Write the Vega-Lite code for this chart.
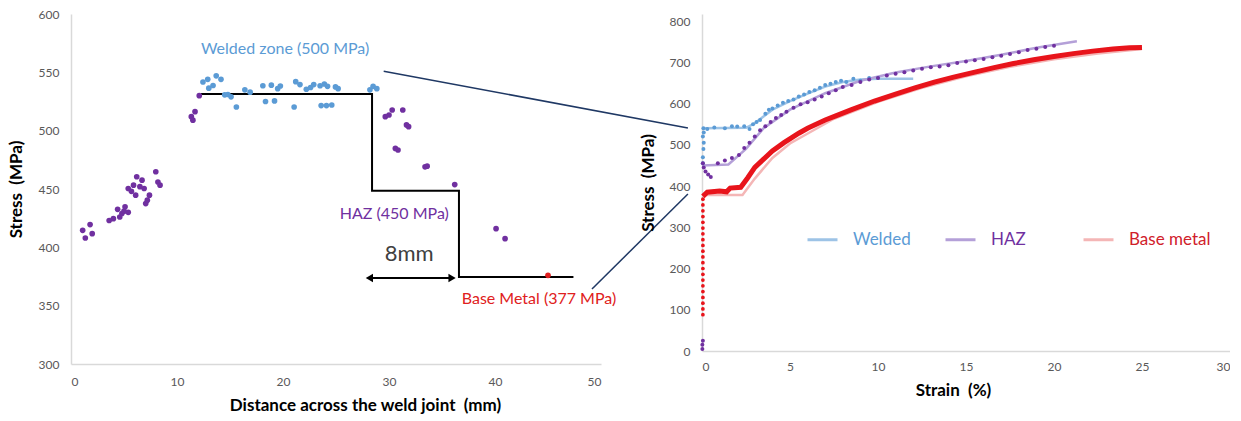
{
  "$schema": "https://vega.github.io/schema/vega-lite/v6.json",
  "background": "white",
  "padding": {"left": 7, "top": 8, "right": 0, "bottom": 5},
  "spacing": 101,
  "bounds": "flush",
  "config": {
    "view": {"stroke": null},
    "font": "Lato",
    "axis": {
      "grid": false, "ticks": false, "domainColor": "#d9d9d9", "domainWidth": 1.5,
      "labelColor": "#595959", "labelFont": "Lato", "labelFontSize": 12,
      "titleFont": "Lato", "titleFontSize": 17, "titleFontWeight": "bold", "titleColor": "#000000"
    }
  },
  "datasets": {
    "distance": [
      {"d": 1.1, "s": 414.6, "zone": "HAZ"}, {"d": 1.35, "s": 408, "zone": "HAZ"}, {"d": 1.8, "s": 419.5, "zone": "HAZ"}, {"d": 2.0, "s": 411.7, "zone": "HAZ"},
      {"d": 3.6, "s": 423, "zone": "HAZ"}, {"d": 4.0, "s": 424.6, "zone": "HAZ"}, {"d": 4.4, "s": 432.6, "zone": "HAZ"}, {"d": 4.6, "s": 426, "zone": "HAZ"},
      {"d": 4.8, "s": 429, "zone": "HAZ"}, {"d": 5.0, "s": 431, "zone": "HAZ"}, {"d": 5.1, "s": 434.7, "zone": "HAZ"}, {"d": 5.4, "s": 430, "zone": "HAZ"},
      {"d": 5.4, "s": 450.4, "zone": "HAZ"}, {"d": 5.7, "s": 448, "zone": "HAZ"}, {"d": 5.9, "s": 453.3, "zone": "HAZ"}, {"d": 6.1, "s": 444.7, "zone": "HAZ"},
      {"d": 6.2, "s": 460.5, "zone": "HAZ"}, {"d": 6.5, "s": 452, "zone": "HAZ"}, {"d": 6.7, "s": 457.6, "zone": "HAZ"}, {"d": 6.9, "s": 450.4, "zone": "HAZ"},
      {"d": 7.05, "s": 437.5, "zone": "HAZ"}, {"d": 7.2, "s": 440.4, "zone": "HAZ"}, {"d": 7.4, "s": 444.7, "zone": "HAZ"}, {"d": 8.0, "s": 464.8, "zone": "HAZ"},
      {"d": 8.2, "s": 456, "zone": "HAZ"}, {"d": 8.4, "s": 453.3, "zone": "HAZ"},
      {"d": 11.35, "s": 512, "zone": "HAZ"}, {"d": 11.5, "s": 509, "zone": "HAZ"}, {"d": 11.7, "s": 516.3, "zone": "HAZ"}, {"d": 12.1, "s": 530, "zone": "HAZ"},
      {"d": 12.45, "s": 541.7, "zone": "Welded"}, {"d": 12.9, "s": 544, "zone": "Welded"}, {"d": 13.0, "s": 536.4, "zone": "Welded"}, {"d": 13.4, "s": 538.7, "zone": "Welded"},
      {"d": 13.7, "s": 547, "zone": "Welded"}, {"d": 14.15, "s": 544, "zone": "Welded"}, {"d": 14.5, "s": 530.7, "zone": "Welded"}, {"d": 14.8, "s": 531, "zone": "Welded"},
      {"d": 15.1, "s": 529, "zone": "Welded"}, {"d": 15.6, "s": 520.3, "zone": "Welded"}, {"d": 16.4, "s": 535, "zone": "Welded"}, {"d": 16.9, "s": 533, "zone": "Welded"},
      {"d": 18.1, "s": 538.5, "zone": "Welded"}, {"d": 18.35, "s": 525, "zone": "Welded"}, {"d": 18.9, "s": 539, "zone": "Welded"}, {"d": 19.2, "s": 525.5, "zone": "Welded"},
      {"d": 19.5, "s": 536, "zone": "Welded"}, {"d": 19.75, "s": 538.3, "zone": "Welded"}, {"d": 21.05, "s": 520.3, "zone": "Welded"}, {"d": 21.2, "s": 542, "zone": "Welded"},
      {"d": 21.6, "s": 539.5, "zone": "Welded"}, {"d": 22.2, "s": 535.5, "zone": "Welded"}, {"d": 22.6, "s": 537, "zone": "Welded"}, {"d": 22.9, "s": 539.5, "zone": "Welded"},
      {"d": 23.5, "s": 538.5, "zone": "Welded"}, {"d": 23.9, "s": 540, "zone": "Welded"}, {"d": 24.2, "s": 538, "zone": "Welded"}, {"d": 23.6, "s": 521.5, "zone": "Welded"},
      {"d": 24.1, "s": 521.5, "zone": "Welded"}, {"d": 24.6, "s": 522, "zone": "Welded"}, {"d": 24.95, "s": 537.5, "zone": "Welded"}, {"d": 25.2, "s": 536, "zone": "Welded"},
      {"d": 28.2, "s": 535, "zone": "Welded"}, {"d": 28.5, "s": 538, "zone": "Welded"}, {"d": 28.85, "s": 536, "zone": "Welded"},
      {"d": 29.65, "s": 512, "zone": "HAZ"}, {"d": 30.0, "s": 513.4, "zone": "HAZ"}, {"d": 30.3, "s": 517.7, "zone": "HAZ"}, {"d": 31.3, "s": 517.7, "zone": "HAZ"},
      {"d": 31.65, "s": 504.9, "zone": "HAZ"}, {"d": 31.85, "s": 503.4, "zone": "HAZ"}, {"d": 30.6, "s": 484.8, "zone": "HAZ"}, {"d": 30.85, "s": 483.4, "zone": "HAZ"},
      {"d": 33.4, "s": 469, "zone": "HAZ"}, {"d": 33.6, "s": 469.6, "zone": "HAZ"}, {"d": 36.2, "s": 453.8, "zone": "HAZ"}, {"d": 40.1, "s": 416, "zone": "HAZ"},
      {"d": 40.95, "s": 407.4, "zone": "HAZ"},
      {"d": 45.0, "s": 376, "zone": "Base"}
    ],
    "steps": [
      {"d": 12.26, "s": 531.4, "o": 1}, {"d": 28.4, "s": 531.4, "o": 2}, {"d": 28.4, "s": 448.6, "o": 3},
      {"d": 36.6, "s": 448.6, "o": 4}, {"d": 36.6, "s": 374.6, "o": 5}, {"d": 47.4, "s": 374.6, "o": 6}
    ],
    "arrow": [
      {"d": 28.15, "s": 373.7, "head": "triangle-left"}, {"d": 35.95, "s": 373.7, "head": "triangle-right"}
    ],
    "zoneLabels": [
      {"d": 20.2, "s": 570, "label": "Welded zone (500 MPa)", "zone": "Welded"},
      {"d": 30.5, "s": 428.6, "label": "HAZ (450 MPa)", "zone": "HAZ"},
      {"d": 44.15, "s": 355.7, "label": "Base Metal (377 MPa)", "zone": "Base"}
    ],
    "connectors": [
      {"d": 29.5, "s": 551, "d2": 58.2, "s2": 502.3},
      {"d": 49.15, "s": 364.3, "d2": 58.2, "s2": 445.7}
    ],
    "fits": [
      {"e": 0, "st": 540, "series": "Welded"}, {"e": 2.5, "st": 541, "series": "Welded"}, {"e": 3, "st": 552, "series": "Welded"}, {"e": 4, "st": 585, "series": "Welded"},
      {"e": 5, "st": 606, "series": "Welded"}, {"e": 6, "st": 624, "series": "Welded"}, {"e": 7, "st": 641, "series": "Welded"}, {"e": 8, "st": 652, "series": "Welded"},
      {"e": 9, "st": 658, "series": "Welded"}, {"e": 10, "st": 660, "series": "Welded"}, {"e": 12, "st": 660, "series": "Welded"},
      {"e": 0, "st": 450, "series": "HAZ"}, {"e": 1.5, "st": 452, "series": "HAZ"}, {"e": 2.5, "st": 490, "series": "HAZ"}, {"e": 3.5, "st": 540, "series": "HAZ"},
      {"e": 5, "st": 585, "series": "HAZ"}, {"e": 7, "st": 625, "series": "HAZ"}, {"e": 9, "st": 655, "series": "HAZ"}, {"e": 11, "st": 675, "series": "HAZ"},
      {"e": 13, "st": 690, "series": "HAZ"}, {"e": 15, "st": 703, "series": "HAZ"}, {"e": 17, "st": 718, "series": "HAZ"}, {"e": 19, "st": 735, "series": "HAZ"},
      {"e": 21.3, "st": 751, "series": "HAZ"},
      {"e": 0, "st": 378, "series": "Base metal"}, {"e": 2.3, "st": 378, "series": "Base metal"}, {"e": 3, "st": 418, "series": "Base metal"}, {"e": 4, "st": 468, "series": "Base metal"},
      {"e": 5, "st": 503, "series": "Base metal"}, {"e": 7.5, "st": 563, "series": "Base metal"}, {"e": 10, "st": 604, "series": "Base metal"}, {"e": 12.5, "st": 638, "series": "Base metal"},
      {"e": 15, "st": 666, "series": "Base metal"}, {"e": 17.5, "st": 689, "series": "Base metal"}, {"e": 20, "st": 707, "series": "Base metal"}, {"e": 22.5, "st": 721, "series": "Base metal"},
      {"e": 25, "st": 732, "series": "Base metal"}
    ],
    "baseCurve": [
      {"e": 0.05, "st": 375}, {"e": 0.3, "st": 385}, {"e": 1.0, "st": 388}, {"e": 1.4, "st": 386}, {"e": 1.6, "st": 395}, {"e": 2.2, "st": 397},
      {"e": 2.6, "st": 420}, {"e": 3.0, "st": 445}, {"e": 3.5, "st": 465}, {"e": 4.0, "st": 485}, {"e": 4.66, "st": 505}, {"e": 5.5, "st": 528},
      {"e": 6.0, "st": 540}, {"e": 7.0, "st": 560}, {"e": 7.6, "st": 570}, {"e": 8.5, "st": 585}, {"e": 9.8, "st": 606}, {"e": 11.0, "st": 623},
      {"e": 12.1, "st": 638}, {"e": 13.2, "st": 652}, {"e": 14.3, "st": 664}, {"e": 15.5, "st": 676}, {"e": 16.6, "st": 687}, {"e": 17.7, "st": 697},
      {"e": 18.85, "st": 706}, {"e": 20.0, "st": 714}, {"e": 21.1, "st": 721}, {"e": 22.2, "st": 727}, {"e": 23.35, "st": 732}, {"e": 24.3, "st": 735},
      {"e": 25.0, "st": 736}
    ],
    "baseDots": [
      {"e": 0.05, "st": 88}, {"e": 0.05, "st": 102}, {"e": 0.05, "st": 116}, {"e": 0.05, "st": 130}, {"e": 0.05, "st": 144}, {"e": 0.05, "st": 158},
      {"e": 0.05, "st": 172}, {"e": 0.05, "st": 186}, {"e": 0.05, "st": 200}, {"e": 0.05, "st": 214}, {"e": 0.05, "st": 228}, {"e": 0.05, "st": 242},
      {"e": 0.05, "st": 256}, {"e": 0.05, "st": 270}, {"e": 0.05, "st": 284}, {"e": 0.05, "st": 298}, {"e": 0.05, "st": 312}, {"e": 0.05, "st": 326},
      {"e": 0.05, "st": 340}, {"e": 0.05, "st": 354}, {"e": 0.05, "st": 368}
    ],
    "curvePoints": [
      {"e": 0.05, "st": 455, "series": "Welded"}, {"e": 0.05, "st": 470, "series": "Welded"}, {"e": 0.08, "st": 490, "series": "Welded"}, {"e": 0.1, "st": 505, "series": "Welded"},
      {"e": 0.05, "st": 520, "series": "Welded"}, {"e": 0.1, "st": 530, "series": "Welded"}, {"e": 0.08, "st": 540, "series": "Welded"}, {"e": 0.3, "st": 538, "series": "Welded"},
      {"e": 0.7, "st": 542, "series": "Welded"}, {"e": 1.3, "st": 540, "series": "Welded"}, {"e": 1.7, "st": 545, "series": "Welded"}, {"e": 2.0, "st": 544, "series": "Welded"},
      {"e": 2.4, "st": 545, "series": "Welded"}, {"e": 2.7, "st": 538, "series": "Welded"}, {"e": 2.9, "st": 550, "series": "Welded"}, {"e": 3.1, "st": 555, "series": "Welded"},
      {"e": 3.3, "st": 560, "series": "Welded"}, {"e": 3.6, "st": 575, "series": "Welded"}, {"e": 3.8, "st": 585, "series": "Welded"}, {"e": 4.0, "st": 588, "series": "Welded"},
      {"e": 4.3, "st": 595, "series": "Welded"}, {"e": 4.6, "st": 602, "series": "Welded"}, {"e": 4.9, "st": 606, "series": "Welded"}, {"e": 5.2, "st": 610, "series": "Welded"},
      {"e": 5.5, "st": 617, "series": "Welded"}, {"e": 5.8, "st": 622, "series": "Welded"}, {"e": 6.1, "st": 628, "series": "Welded"}, {"e": 6.4, "st": 632, "series": "Welded"},
      {"e": 6.7, "st": 638, "series": "Welded"}, {"e": 7.0, "st": 645, "series": "Welded"}, {"e": 7.3, "st": 648, "series": "Welded"}, {"e": 7.6, "st": 652, "series": "Welded"},
      {"e": 7.9, "st": 655, "series": "Welded"}, {"e": 8.2, "st": 652, "series": "Welded"}, {"e": 8.6, "st": 660, "series": "Welded"}, {"e": 9.0, "st": 655, "series": "Welded"},
      {"e": 9.5, "st": 662, "series": "Welded"}, {"e": 10.0, "st": 662, "series": "Welded"},
      {"e": 0.02, "st": 5, "series": "HAZ"}, {"e": 0.02, "st": 15, "series": "HAZ"}, {"e": 0.05, "st": 25, "series": "HAZ"}, {"e": 0.05, "st": 455, "series": "HAZ"},
      {"e": 0.1, "st": 445, "series": "HAZ"}, {"e": 0.2, "st": 435, "series": "HAZ"}, {"e": 0.35, "st": 428, "series": "HAZ"}, {"e": 0.5, "st": 422, "series": "HAZ"},
      {"e": 0.9, "st": 455, "series": "HAZ"}, {"e": 1.3, "st": 462, "series": "HAZ"}, {"e": 1.7, "st": 468, "series": "HAZ"}, {"e": 2.1, "st": 475, "series": "HAZ"},
      {"e": 2.4, "st": 492, "series": "HAZ"}, {"e": 2.7, "st": 505, "series": "HAZ"}, {"e": 3.0, "st": 520, "series": "HAZ"}, {"e": 3.3, "st": 535, "series": "HAZ"},
      {"e": 3.6, "st": 545, "series": "HAZ"}, {"e": 3.9, "st": 555, "series": "HAZ"}, {"e": 4.2, "st": 565, "series": "HAZ"}, {"e": 4.5, "st": 572, "series": "HAZ"},
      {"e": 4.8, "st": 580, "series": "HAZ"}, {"e": 5.2, "st": 590, "series": "HAZ"}, {"e": 5.6, "st": 598, "series": "HAZ"}, {"e": 6.0, "st": 603, "series": "HAZ"},
      {"e": 6.4, "st": 610, "series": "HAZ"}, {"e": 6.8, "st": 617, "series": "HAZ"}, {"e": 7.2, "st": 625, "series": "HAZ"}, {"e": 7.6, "st": 632, "series": "HAZ"},
      {"e": 8.0, "st": 640, "series": "HAZ"}, {"e": 8.5, "st": 645, "series": "HAZ"}, {"e": 9.0, "st": 652, "series": "HAZ"}, {"e": 9.5, "st": 658, "series": "HAZ"},
      {"e": 10.0, "st": 662, "series": "HAZ"}, {"e": 10.5, "st": 668, "series": "HAZ"}, {"e": 11.0, "st": 672, "series": "HAZ"}, {"e": 11.5, "st": 676, "series": "HAZ"},
      {"e": 12.0, "st": 680, "series": "HAZ"}, {"e": 12.5, "st": 684, "series": "HAZ"}, {"e": 13.0, "st": 688, "series": "HAZ"}, {"e": 13.5, "st": 690, "series": "HAZ"},
      {"e": 14.0, "st": 693, "series": "HAZ"}, {"e": 14.5, "st": 698, "series": "HAZ"}, {"e": 15.0, "st": 702, "series": "HAZ"}, {"e": 15.5, "st": 705, "series": "HAZ"},
      {"e": 16.0, "st": 708, "series": "HAZ"}, {"e": 16.5, "st": 712, "series": "HAZ"}, {"e": 17.0, "st": 716, "series": "HAZ"}, {"e": 17.5, "st": 720, "series": "HAZ"},
      {"e": 18.0, "st": 724, "series": "HAZ"}, {"e": 18.5, "st": 730, "series": "HAZ"}, {"e": 19.0, "st": 733, "series": "HAZ"}, {"e": 19.5, "st": 737, "series": "HAZ"},
      {"e": 20.0, "st": 740, "series": "HAZ"}
    ]
  },
  "hconcat": [
    {
      "width": 530,
      "height": 350,
      "encoding": {
        "x": {"type": "quantitative", "scale": {"domain": [0, 50], "nice": false}},
        "y": {"type": "quantitative", "scale": {"domain": [300, 600], "nice": false}}
      },
      "layer": [
        {
          "data": {"name": "connectors"},
          "mark": {"type": "rule", "color": "#1f3864", "strokeWidth": 1.5},
          "encoding": {
            "x": {"field": "d", "type": "quantitative", "axis": {"title": "Distance across the weld joint\u00a0\u00a0(mm)", "values": [0, 10, 20, 30, 40, 50], "labelPadding": 12, "titlePadding": 10, "titleX": 294}},
            "y": {"field": "s", "type": "quantitative", "axis": {"title": "Stress\u00a0\u00a0(MPa)", "values": [300, 350, 400, 450, 500, 550, 600], "labelPadding": 12, "titlePadding": 13}},
            "x2": {"field": "d2"},
            "y2": {"field": "s2"}
          }
        },
        {
          "data": {"name": "steps"},
          "mark": {"type": "line", "color": "#000000", "strokeWidth": 2},
          "encoding": {
            "x": {"field": "d", "type": "quantitative"},
            "y": {"field": "s", "type": "quantitative"},
            "order": {"field": "o", "type": "quantitative"}
          }
        },
        {
          "data": {"name": "arrow"},
          "mark": {"type": "line", "color": "#000000", "strokeWidth": 2},
          "encoding": {
            "x": {"field": "d", "type": "quantitative"},
            "y": {"field": "s", "type": "quantitative"}
          }
        },
        {
          "data": {"name": "arrow"},
          "mark": {"type": "point", "filled": true, "color": "#000000", "opacity": 1, "size": 70},
          "encoding": {
            "x": {"field": "d", "type": "quantitative"},
            "y": {"field": "s", "type": "quantitative"},
            "shape": {"field": "head", "type": "nominal", "scale": {"domain": ["triangle-left", "triangle-right"], "range": ["triangle-left", "triangle-right"]}, "legend": null}
          }
        },
        {
          "data": {"name": "distance"},
          "mark": {"type": "circle", "size": 32, "opacity": 1},
          "encoding": {
            "x": {"field": "d", "type": "quantitative"},
            "y": {"field": "s", "type": "quantitative"},
            "color": {"field": "zone", "type": "nominal", "scale": {"domain": ["Welded", "HAZ", "Base"], "range": ["#5b9bd5", "#7030a0", "#e02020"]}, "legend": null}
          }
        },
        {
          "data": {"name": "zoneLabels"},
          "mark": {"type": "text", "font": "Lato", "fontSize": 16, "align": "center", "baseline": "middle"},
          "encoding": {
            "x": {"field": "d", "type": "quantitative"},
            "y": {"field": "s", "type": "quantitative"},
            "text": {"field": "label"},
            "color": {"field": "zone", "type": "nominal", "scale": {"domain": ["Welded", "HAZ", "Base"], "range": ["#5b9bd5", "#7030a0", "#e02020"]}, "legend": null}
          }
        },
        {
          "data": {"values": [{"d": 31.9, "s": 394.3, "label": "8mm"}]},
          "mark": {"type": "text", "font": "Lato", "fontSize": 22, "align": "center", "baseline": "middle", "color": "#404040"},
          "encoding": {
            "x": {"field": "d", "type": "quantitative"},
            "y": {"field": "s", "type": "quantitative"},
            "text": {"field": "label"}
          }
        }
      ]
    },
    {
      "width": 528,
      "height": 337,
      "layer": [
        {
          "data": {"name": "fits"},
          "mark": {"type": "line", "strokeWidth": 2.5},
          "encoding": {
            "x": {"field": "e", "type": "quantitative", "scale": {"domain": [0, 30], "nice": false}, "axis": {"title": "Strain\u00a0\u00a0(%)", "values": [0, 5, 10, 15, 20, 25, 30], "labelPadding": 10, "titlePadding": 10, "titleX": 251}},
            "y": {"field": "st", "type": "quantitative", "scale": {"domain": [0, 817], "nice": false}, "axis": {"title": "Stress\u00a0\u00a0(MPa)", "values": [0, 100, 200, 300, 400, 500, 600, 700, 800], "labelPadding": 12, "titlePadding": 12}},
            "stroke": {
              "field": "series", "type": "nominal",
              "scale": {"domain": ["Welded", "HAZ", "Base metal"], "range": ["#9dc3e6", "#b4a0d8", "#f4b6b6"]},
              "legend": {
                "orient": "none", "legendX": 735, "legendY": 209, "direction": "horizontal", "title": null,
                "symbolType": "stroke", "symbolSize": 900, "symbolStrokeWidth": 3, "labelOffset": 14,
                "labelFont": "Lato", "labelFontSize": 17, "gridAlign": "all", "columnPadding": 4,
                "labelColor": {"expr": "datum.value === 'Welded' ? '#5b9bd5' : datum.value === 'HAZ' ? '#7030a0' : '#d0202a'"}
              }
            }
          }
        },
        {
          "data": {"name": "baseCurve"},
          "mark": {"type": "line", "color": "#e8141b", "strokeWidth": 5},
          "encoding": {
            "x": {"field": "e", "type": "quantitative"},
            "y": {"field": "st", "type": "quantitative"}
          }
        },
        {
          "data": {"name": "baseDots"},
          "mark": {"type": "circle", "color": "#e8141b", "size": 14, "opacity": 1},
          "encoding": {
            "x": {"field": "e", "type": "quantitative"},
            "y": {"field": "st", "type": "quantitative"}
          }
        },
        {
          "data": {"name": "curvePoints"},
          "mark": {"type": "circle", "size": 16, "opacity": 1},
          "encoding": {
            "x": {"field": "e", "type": "quantitative"},
            "y": {"field": "st", "type": "quantitative"},
            "color": {"field": "series", "type": "nominal", "scale": {"domain": ["Welded", "HAZ"], "range": ["#4a8fc9", "#7030a0"]}, "legend": null}
          }
        }
      ]
    }
  ]
}
